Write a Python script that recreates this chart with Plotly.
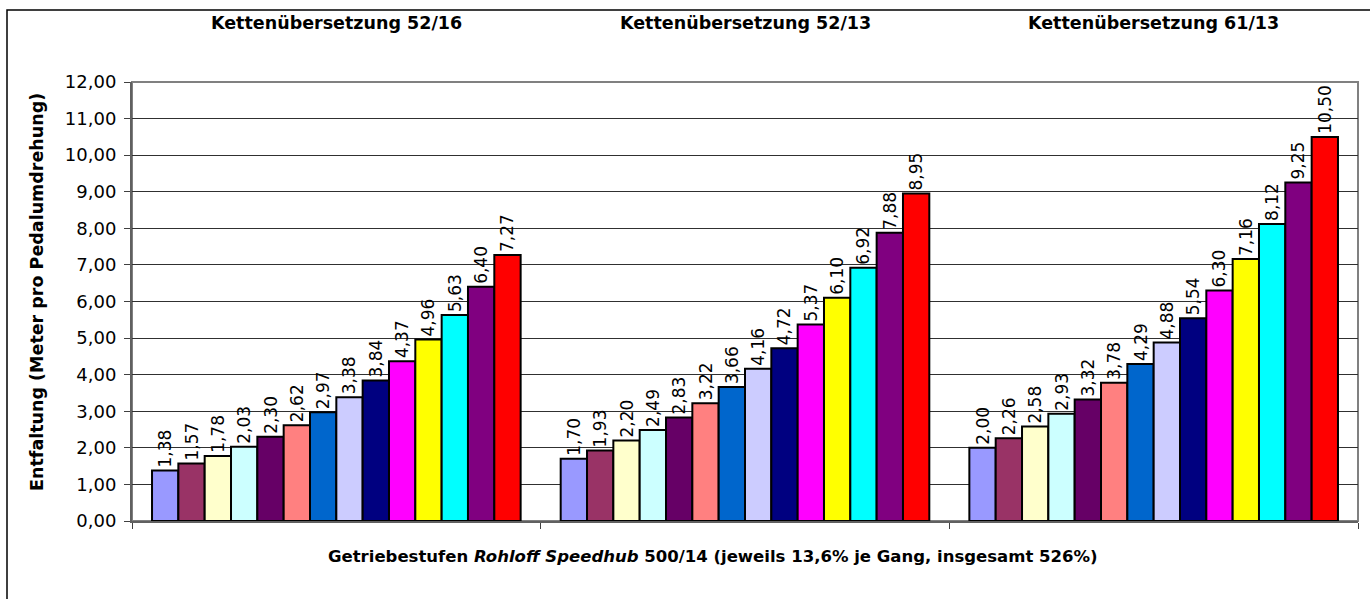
import plotly.graph_objects as go

groups = ["Kettenübersetzung 52/16", "Kettenübersetzung 52/13", "Kettenübersetzung 61/13"]
gears = [f"Gang {i}" for i in range(1, 15)]
ratio_52_16 = [1.38, 1.57, 1.78, 2.03, 2.30, 2.62, 2.97, 3.38, 3.84, 4.37, 4.96, 5.63, 6.40, 7.27]
ratio_52_13 = [1.70, 1.93, 2.20, 2.49, 2.83, 3.22, 3.66, 4.16, 4.72, 5.37, 6.10, 6.92, 7.88, 8.95]
ratio_61_13 = [2.00, 2.26, 2.58, 2.93, 3.32, 3.78, 4.29, 4.88, 5.54, 6.30, 7.16, 8.12, 9.25, 10.50]
colors = ["#9999FF", "#993366", "#FFFFCC", "#CCFFFF", "#660066", "#FF8080", "#0066CC",
          "#CCCCFF", "#000080", "#FF00FF", "#FFFF00", "#00FFFF", "#800080", "#FF0000"]
yticks = [0, 1, 2, 3, 4, 5, 6, 7, 8, 9, 10, 11, 12]

FONT = "DejaVu Sans, Arial, sans-serif"

fig = go.Figure()
for i, g in enumerate(gears):
    vals = [ratio_52_16[i], ratio_52_13[i], ratio_61_13[i]]
    fig.add_trace(go.Bar(
        x=groups, y=vals, name=g,
        marker=dict(color=colors[i], line=dict(color="black", width=2)),
        texttemplate="%{y:.2f}", textposition="outside", textangle=-90,
        textfont=dict(family=FONT, size=17, color="black"),
        cliponaxis=False, constraintext="none",
    ))

W, H = 1370, 599
L, R, T, B = 132, 12, 82, 78
pw, ph = W - L - R, H - T - B

def px(x):
    return (x - L) / pw

def py(y):
    return (H - B - y) / ph

annotations = []
for k, g in enumerate(groups):
    annotations.append(dict(x=g, xref="x", y=py(23), yref="paper", text=f"<b>{g}</b>",
                            showarrow=False, font=dict(family=FONT, size=17.5, color="black"),
                            xanchor="center", yanchor="middle"))
annotations.append(dict(x=px(713), xref="paper", y=py(556), yref="paper",
                        text="<b>Getriebestufen <i>Rohloff Speedhub</i> 500/14 (jeweils 13,6% je Gang, insgesamt 526%)</b>",
                        showarrow=False, font=dict(family=FONT, size=16.5, color="black"),
                        xanchor="center", yanchor="middle"))
annotations.append(dict(x=px(37), xref="paper", y=py(292), yref="paper",
                        text="<b>Entfaltung (Meter pro Pedalumdrehung)</b>", textangle=-90,
                        showarrow=False, font=dict(family=FONT, size=17.5, color="black"),
                        xanchor="center", yanchor="middle"))

fig.update_layout(
    width=W, height=H,
    margin=dict(l=L, r=R, t=T, b=B),
    paper_bgcolor="white", plot_bgcolor="white",
    barmode="group", bargap=0.098, bargroupgap=0,
    showlegend=False,
    separators=",.",
    font=dict(family=FONT, color="black"),
    annotations=annotations,
    shapes=[
        dict(type="rect", xref="paper", yref="paper", x0=px(7), x1=px(1380), y0=py(610), y1=py(10),
             line=dict(color="black", width=1.5), fillcolor="rgba(0,0,0,0)", layer="below"),
        dict(type="rect", xref="paper", yref="paper", x0=0, x1=1, y0=0, y1=1,
             line=dict(color="#808080", width=2), fillcolor="rgba(0,0,0,0)", layer="below"),
    ],
    xaxis=dict(showticklabels=False, ticks="outside", tickson="boundaries", ticklen=6,
               tickcolor="#404040", showline=True, linecolor="#606060", linewidth=2,
               showgrid=False, zeroline=False),
    yaxis=dict(range=[0, 12], tickvals=yticks, tickformat=".2f", ticks="outside", ticklen=6,
               tickcolor="#404040", tickfont=dict(family=FONT, size=18, color="black"),
               ticklabelstandoff=4,
               showline=True, linecolor="#606060", linewidth=2,
               showgrid=True, gridcolor="#303030", gridwidth=1, zeroline=False),
)

fig.write_html("out.html", config={"displayModeBar": False},
               post_script="document.body.style.margin='0';")
